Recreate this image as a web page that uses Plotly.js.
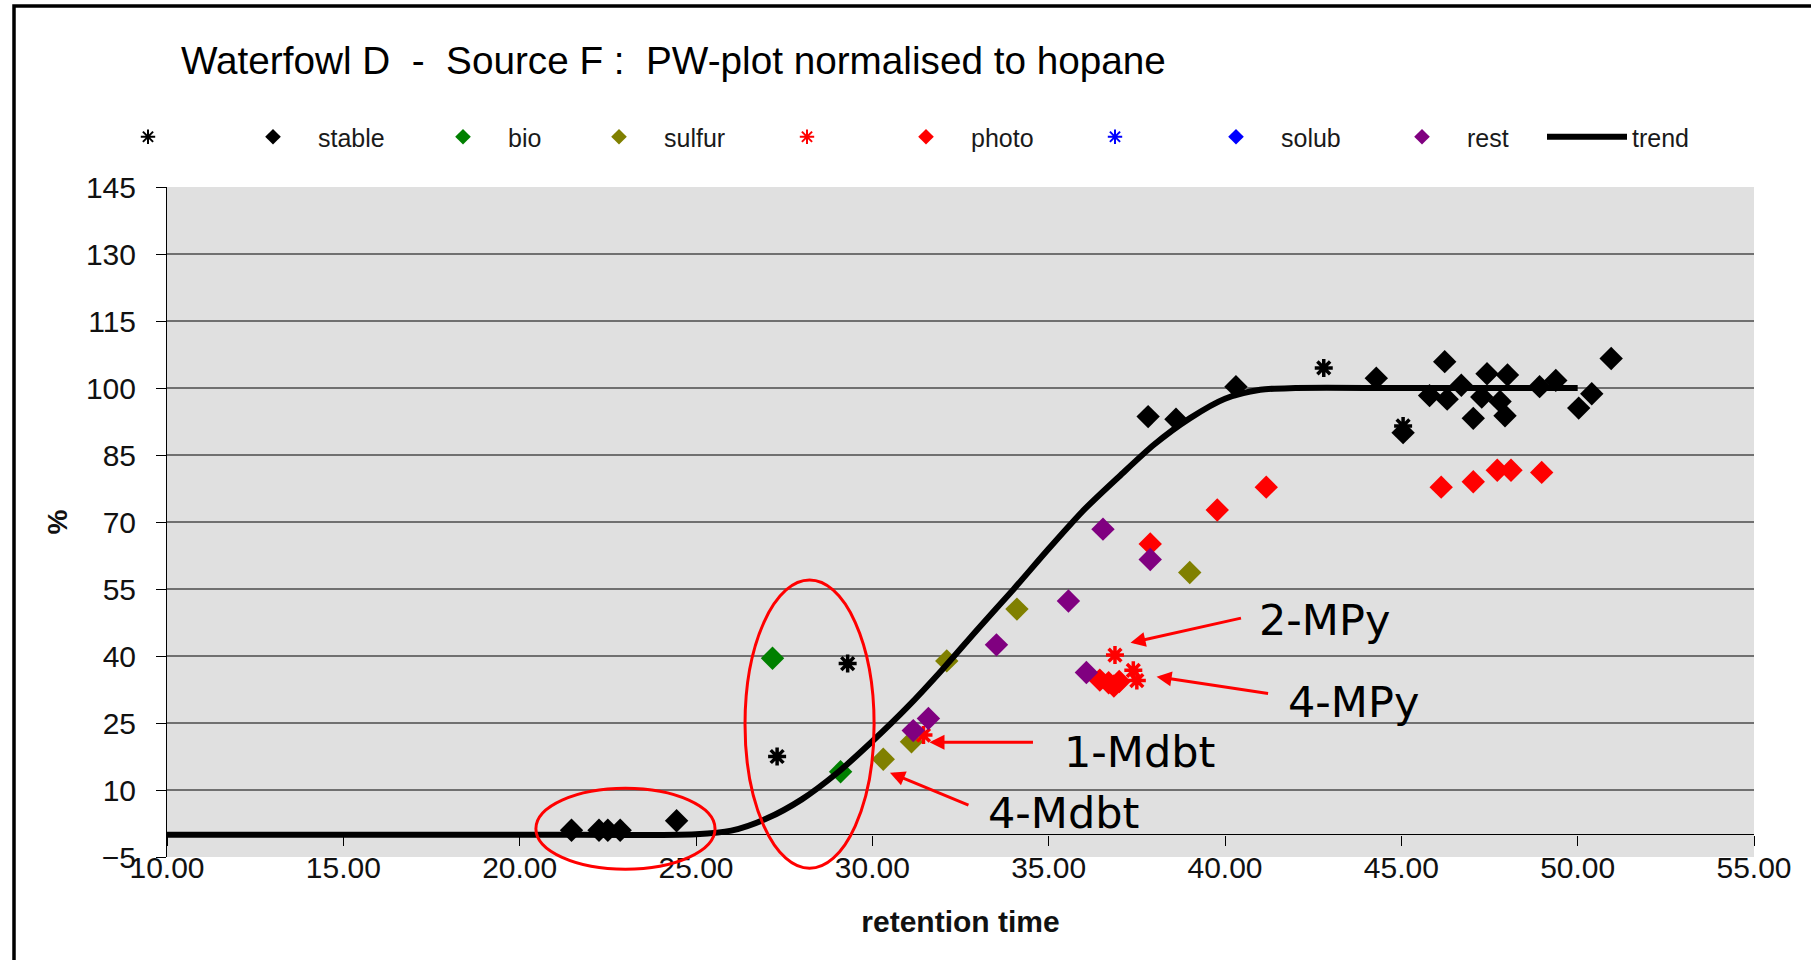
<!DOCTYPE html>
<html><head><meta charset="utf-8">
<script src="https://cdn.plot.ly/plotly-3.0.1.min.js"></script>
<style>html,body{margin:0;padding:0;background:#fff}#chart{width:1811px;height:960px}</style>
</head><body><div id="chart"></div>
<script>
// ---------------- data ----------------
const stableStarX = [27.3, 29.3, 42.8, 45.05];
const stableStarY = [17.5, 38.3, 104.5, 91.5];
const stableX = [21.47, 22.25, 22.5, 22.85, 24.45, 37.82, 38.61, 40.31, 44.29, 45.05, 45.8, 46.23, 46.3, 46.7, 47.04, 47.28, 47.43, 47.8, 47.94, 48.01, 48.92, 49.38, 50.03, 50.4, 50.95];
const stableY = [1.0, 1.0, 1.0, 1.0, 3.1, 93.6, 93.0, 100.3, 102.2, 90.0, 98.3, 105.9, 97.5, 100.6, 93.2, 98.0, 103.2, 97.0, 93.8, 102.9, 100.3, 101.7, 95.5, 98.7, 106.6];
const bioX = [27.17, 29.1];
const bioY = [39.5, 14.1];
const sulfurX = [30.31, 31.11, 32.11, 34.1, 39.0];
const sulfurY = [16.9, 20.8, 38.9, 50.5, 58.7];
const photoStarX = [31.45, 36.88, 37.4, 37.5];
const photoStarY = [22.3, 40.2, 36.8, 34.5];
const photoX = [36.45, 36.7, 36.85, 37.0, 37.88, 39.78, 41.17, 46.13, 47.04, 47.72, 48.11, 48.98];
const photoY = [34.6, 34.0, 33.3, 34.3, 65.1, 72.7, 77.8, 77.8, 79.0, 81.6, 81.6, 81.1];
const solubStarX = [];
const solubStarY = [];
const solubX = [];
const solubY = [];
const restX = [31.16, 31.59, 33.52, 35.56, 36.54, 37.88, 36.07];
const restY = [23.3, 26.0, 42.5, 52.3, 68.4, 61.6, 36.3];
const trendX = [10, 20, 25, 26, 27, 28, 29, 30, 31, 32, 33, 34, 35, 36, 37, 38, 39, 40, 41, 42, 45, 50];
const trendY = [0, 0, 0.1, 0.9, 3.6, 7.9, 13.8, 20.9, 28.6, 37.1, 46.1, 54.9, 64.0, 72.7, 80.2, 87.4, 93.2, 97.6, 99.6, 100, 100, 100];

const yTicks = [-5, 10, 25, 40, 55, 70, 85, 100, 115, 130, 145];
const gridVals = [10, 25, 40, 55, 70, 85, 100, 115, 130];

// ---------------- layout geometry ----------------
const M = {l: 167, r: 57, t: 187, b: 103};
const W = 1811 - M.l - M.r, H = 960 - M.t - M.b;
const px2x = p => (p - M.l) / W;
const px2y = p => (960 - M.b - p) / H;
const FONT = 'Liberation Sans, Arial, sans-serif';

const nz = a => a.length ? a : [null];

const series = [
  {name: ' ', x: stableStarX, y: stableStarY, color: '#000000', sym: 'asterisk-open', c: 148},
  {name: 'stable', x: stableX, y: stableY, color: '#000000', sym: 'diamond', c: 273},
  {name: 'bio', x: bioX, y: bioY, color: '#008000', sym: 'diamond', c: 463},
  {name: 'sulfur', x: sulfurX, y: sulfurY, color: '#808000', sym: 'diamond', c: 619},
  {name: ' ', x: photoStarX, y: photoStarY, color: '#ff0000', sym: 'asterisk-open', c: 807},
  {name: 'photo', x: photoX, y: photoY, color: '#ff0000', sym: 'diamond', c: 926},
  {name: ' ', x: solubStarX, y: solubStarY, color: '#0000ff', sym: 'asterisk-open', c: 1115},
  {name: 'solub', x: solubX, y: solubY, color: '#0000ff', sym: 'diamond', c: 1236},
  {name: 'rest', x: restX, y: restY, color: '#800080', sym: 'diamond', c: 1422}
];

const ITEMW = 80, OFF = 0;
const traces = [];
const layout = {
  width: 1811, height: 960,
  margin: M,
  paper_bgcolor: '#ffffff',
  plot_bgcolor: '#e0e0e0',
  showlegend: true,
  font: {family: FONT, color: '#111111'},
  title: {
    text: 'Waterfowl D  -  Source F :  PW-plot normalised to hopane',
    xref: 'container', yref: 'container', x: 181 / 1811, xanchor: 'left',
    y: 1 - 60 / 960, yanchor: 'middle',
    font: {family: FONT, size: 38.7, color: '#000000'}
  },
  xaxis: {
    range: [10, 55], tick0: 10, dtick: 5, tickformat: '.2f',
    showgrid: false, zeroline: false, showline: false, ticks: '',
    tickfont: {family: FONT, size: 30, color: '#111111'},
    ticklabelstandoff: -10,
    title: {text: 'retention time', font: {family: FONT, size: 30, color: '#111111', weight: 'bold'}, standoff: 27}
  },
  xaxis2: {
    range: [10, 55], tick0: 10, dtick: 5, overlaying: 'x', anchor: 'free',
    position: 5 / 150, side: 'bottom', showline: false, showgrid: false, zeroline: false,
    ticks: 'outside', ticklen: 10, tickwidth: 1, tickcolor: '#000000', showticklabels: false
  },
  yaxis: {
    range: [-5, 145], tickvals: yTicks, showgrid: false,
    zeroline: true, zerolinecolor: '#000000', zerolinewidth: 1,
    showline: true, linecolor: '#000000', linewidth: 1,
    ticks: 'outside', ticklen: 10, tickcolor: '#000000', tickwidth: 1,
    tickfont: {family: FONT, size: 30, color: '#111111'},
    ticklabelstandoff: 14,
    title: {text: '%', font: {family: FONT, size: 28, color: '#111111', weight: 'bold'}, standoff: 10}
  },
  shapes: [], annotations: []
};

series.forEach((s, i) => {
  const lid = i === 0 ? 'legend' : 'legend' + (i + 1);
  const isStar = s.sym.indexOf('asterisk') === 0;
  traces.push({
    type: 'scatter', mode: 'markers', name: s.name, x: nz(s.x), y: nz(s.y),
    legend: lid, hoverinfo: 'x+y',
    marker: isStar ? {symbol: s.sym, size: 15, color: s.color, line: {color: s.color, width: 3.5}}
                   : {symbol: s.sym, size: 18, color: s.color, line: {width: 0}}
  });
  layout[lid] = {
    x: px2x(s.c - (ITEMW + 10) / 2 - OFF), xanchor: 'left',
    y: px2y(137), yanchor: 'middle', orientation: 'h',
    bgcolor: 'rgba(0,0,0,0)', borderwidth: 0, itemwidth: ITEMW, itemsizing: 'constant',
    font: {family: FONT, size: 25, color: '#1a1a1a'}
  };
});
// trend
traces.push({
  type: 'scatter', mode: 'lines', name: 'trend', x: trendX, y: trendY,
  line: {color: '#000000', width: 6, shape: 'spline', smoothing: 0.8},
  legend: 'legend10', hoverinfo: 'x+y'
});
layout.legend10 = {
  x: px2x(1542 - OFF), xanchor: 'left', y: px2y(137), yanchor: 'middle', orientation: 'h',
  bgcolor: 'rgba(0,0,0,0)', borderwidth: 0, itemwidth: ITEMW,
  font: {family: FONT, size: 25, color: '#1a1a1a'}
};
// dummy trace for the tick axis at y = 0
traces.push({type: 'scatter', mode: 'markers', x: [null], y: [null], xaxis: 'x2', yaxis: 'y', showlegend: false, hoverinfo: 'skip'});

// gridlines
gridVals.forEach(v => layout.shapes.push({
  type: 'line', xref: 'x domain', yref: 'y', x0: 0, x1: 1, y0: v, y1: v,
  line: {color: '#000000', width: 1}, layer: 'below'
}));
// ellipses
layout.shapes.push({type: 'circle', xref: 'x', yref: 'paper', x0: 20.46, x1: 25.54, y0: -0.0183, y1: 0.1025, line: {color: '#ff0000', width: 3}, layer: 'above'});
layout.shapes.push({type: 'circle', xref: 'x', yref: 'paper', x0: 26.39, x1: 30.05, y0: -0.0169, y1: 0.4133, line: {color: '#ff0000', width: 3}, layer: 'above'});
// outer frame
layout.shapes.push({type: 'rect', xref: 'paper', yref: 'paper', x0: px2x(14), x1: px2x(1900), y0: px2y(1000), y1: px2y(6), line: {color: '#000000', width: 3.5}, fillcolor: 'rgba(0,0,0,0)', layer: 'above'});

// callouts
const LFONT = {family: 'DejaVu Sans, sans-serif', size: 43, color: '#000000'};
const callouts = [
  {text: '2-MPy', tx: 40.90, ty: 48.0, hx: 37.32, hy: 42.96, ax: 112, ay: -25},
  {text: '4-MPy', tx: 41.72, ty: 29.7, hx: 38.06, hy: 35.37, ax: 113, ay: 17},
  {text: '1-Mdbt', tx: 35.38, ty: 18.6, hx: 31.62, hy: 20.68, ax: 105, ay: 0},
  {text: '4-Mdbt', tx: 33.22, ty: 4.85, hx: 30.50, hy: 13.87, ax: 80, ay: 33}
];
callouts.forEach(c => {
  layout.annotations.push({xref: 'x', yref: 'y', x: c.tx, y: c.ty, text: c.text, showarrow: false, xanchor: 'left', yanchor: 'middle', font: LFONT});
  layout.annotations.push({xref: 'x', yref: 'y', x: c.hx, y: c.hy, text: '', showarrow: true, ax: c.ax, ay: c.ay, arrowcolor: '#ff0000', arrowwidth: 3, arrowhead: 2, arrowsize: 1, standoff: 0, startstandoff: 0});
});

Plotly.newPlot('chart', traces, layout, {displayModeBar: false, responsive: false});
</script>
</body></html>
